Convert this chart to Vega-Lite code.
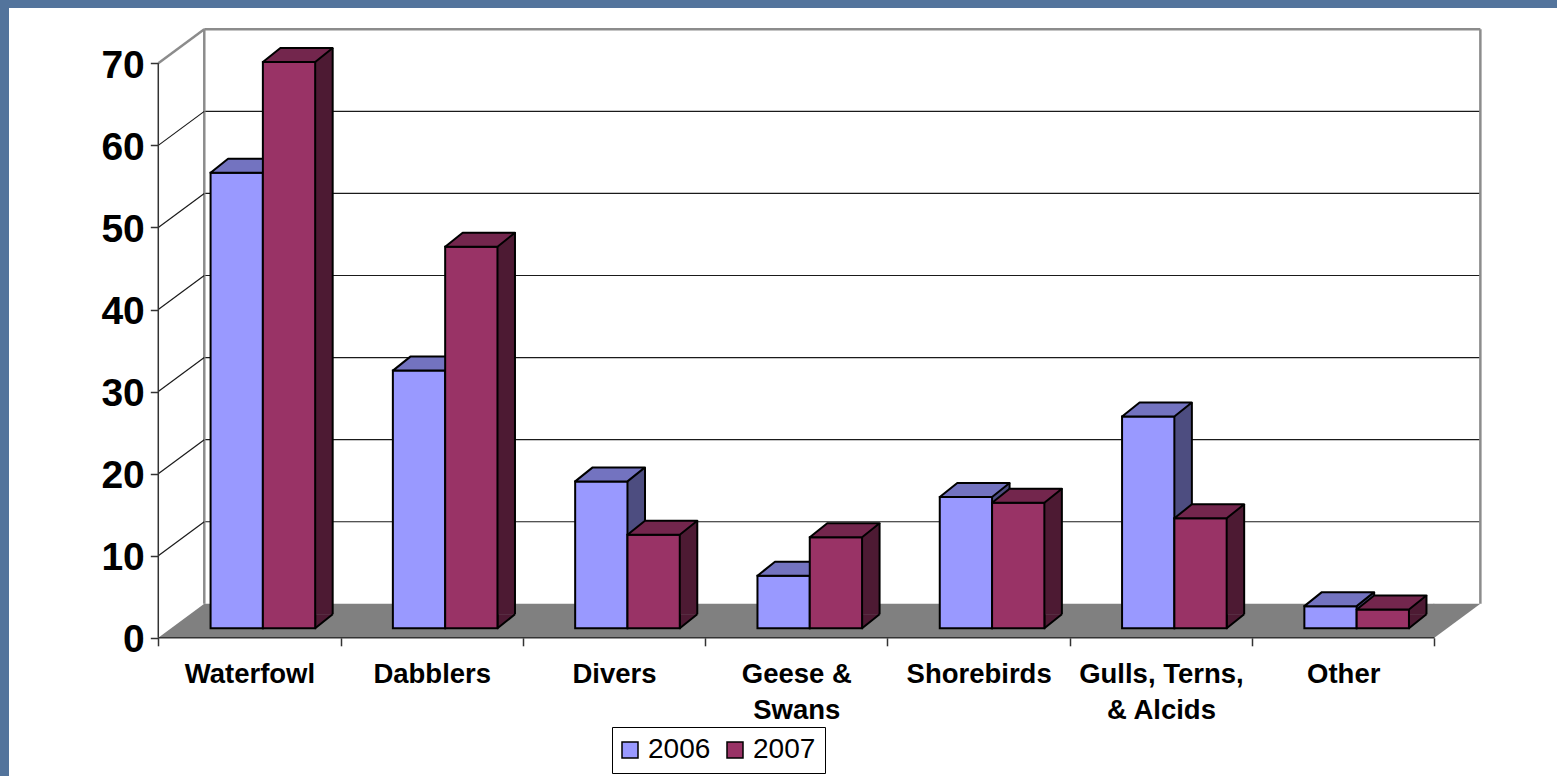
{
  "$schema": "https://vega.github.io/schema/vega-lite/v6.json",
  "width": 1548,
  "height": 768,
  "autosize": {"type": "none"},
  "padding": {"left": 9, "top": 8, "right": 0, "bottom": 0},
  "background": "#53749C",
  "view": {"fill": "white", "stroke": null},
  "config": {"font": "Liberation Sans"},
  "datasets": {
    "counts": [
      {"category": "Waterfowl", "year": "2006", "value": 55.5},
      {"category": "Waterfowl", "year": "2007", "value": 69},
      {"category": "Dabblers", "year": "2006", "value": 31.4},
      {"category": "Dabblers", "year": "2007", "value": 46.5},
      {"category": "Divers", "year": "2006", "value": 17.9},
      {"category": "Divers", "year": "2007", "value": 11.4},
      {"category": "Geese & Swans", "year": "2006", "value": 6.4},
      {"category": "Geese & Swans", "year": "2007", "value": 11.1},
      {"category": "Shorebirds", "year": "2006", "value": 16.0},
      {"category": "Shorebirds", "year": "2007", "value": 15.3},
      {"category": "Gulls, Terns, & Alcids", "year": "2006", "value": 25.8},
      {"category": "Gulls, Terns, & Alcids", "year": "2007", "value": 13.4},
      {"category": "Other", "year": "2006", "value": 2.7},
      {"category": "Other", "year": "2007", "value": 2.3}
    ],
    "grid": [
      {"tick": 0}, {"tick": 10}, {"tick": 20}, {"tick": 30},
      {"tick": 40}, {"tick": 50}, {"tick": 60}, {"tick": 70}
    ]
  },
  "data": {"name": "counts"},
  "layer": [
    {
      "transform": [{"filter": "datum.year == '2006'"}],
      "mark": {"type": "bar", "opacity": 0},
      "encoding": {
        "x": {
          "field": "category", "type": "nominal", "title": null,
          "scale": {"type": "band", "domain": ["Waterfowl", "Dabblers", "Divers", "Geese & Swans", "Shorebirds", "Gulls, Terns, & Alcids", "Other"], "paddingInner": 0, "paddingOuter": 0.7458, "align": 0.549},
          "axis": {
            "orient": "bottom", "offset": -138.2, "domain": false, "grid": false,
            "tickBand": "extent", "tickSize": 8, "tickColor": "#333333", "tickWidth": 1.5,
            "labelFont": "Liberation Sans", "labelFontSize": 27.5, "labelFontWeight": "bold", "labelColor": "black",
            "labelPadding": 15, "labelLineHeight": 36, "labelLimit": 0, "labelAngle": 0, "title": null,
            "labelExpr": "datum.label == 'Geese & Swans' ? ['Geese &', 'Swans'] : datum.label == 'Gulls, Terns, & Alcids' ? ['Gulls, Terns,', '& Alcids'] : datum.label"
          }
        },
        "y": {
          "field": "value", "type": "quantitative", "title": null,
          "scale": {"domain": [-16.84, 76.74], "nice": false, "zero": false},
          "axis": {
            "values": [0, 10, 20, 30, 40, 50, 60, 70], "offset": -149.3, "domain": false, "grid": false,
            "tickSize": 8, "tickColor": "#333333", "tickWidth": 1.5,
            "labelFont": "Liberation Sans", "labelFontSize": 39, "labelFontWeight": "bold", "labelColor": "black",
            "labelPadding": 6, "labelOffset": 2, "title": null
          }
        },
        "y2": {"datum": 0}
      }
    },
    {
      "data": {"name": "grid"},
      "transform": [{"filter": "datum.tick > 0"}],
      "mark": {"type": "rule", "xOffset": 46, "x2Offset": 46, "yOffset": -34},
      "encoding": {
        "x": {"datum": "Waterfowl", "type": "nominal", "bandPosition": 0, "title": null},
        "x2": {"datum": "Other", "bandPosition": 1},
        "y": {"field": "tick", "type": "quantitative", "title": null},
        "stroke": {"condition": {"test": "datum.tick == 70", "value": "#8c8c8c"}, "value": "#1a1a1a"},
        "strokeWidth": {"condition": {"test": "datum.tick == 70", "value": 2.5}, "value": 1.2}
      }
    },
    {
      "data": {"name": "grid"},
      "transform": [{"filter": "datum.tick == 0"}],
      "mark": {"type": "rule", "xOffset": 46, "yOffset": -34, "y2Offset": -34, "stroke": "#8c8c8c", "strokeWidth": 2.5},
      "encoding": {
        "x": {"datum": "Waterfowl", "type": "nominal", "bandPosition": 0, "title": null},
        "y": {"datum": 0, "type": "quantitative", "title": null},
        "y2": {"datum": 70}
      }
    },
    {
      "data": {"name": "grid"},
      "transform": [{"filter": "datum.tick == 0"}],
      "mark": {"type": "rule", "xOffset": 46, "yOffset": -34, "y2Offset": -34, "stroke": "#8c8c8c", "strokeWidth": 2.5},
      "encoding": {
        "x": {"datum": "Other", "type": "nominal", "bandPosition": 1, "title": null},
        "y": {"datum": 0, "type": "quantitative", "title": null},
        "y2": {"datum": 70}
      }
    },
    {
      "data": {"name": "grid"},
      "transform": [{"filter": "datum.tick > 0"}],
      "mark": {"type": "rule", "x2Offset": 46, "y2Offset": -34},
      "encoding": {
        "x": {"datum": "Waterfowl", "type": "nominal", "bandPosition": 0, "title": null},
        "x2": {"datum": "Waterfowl", "bandPosition": 0},
        "y": {"field": "tick", "type": "quantitative", "title": null},
        "y2": {"field": "tick"},
        "stroke": {"condition": {"test": "datum.tick == 70", "value": "#8c8c8c"}, "value": "#1a1a1a"},
        "strokeWidth": {"condition": {"test": "datum.tick == 70", "value": 2.5}, "value": 1.2}
      }
    },
    {
      "data": {"name": "grid"},
      "transform": [{"filter": "datum.tick == 0"}],
      "mark": {"type": "rule", "xOffset": 46, "yOffset": -17, "stroke": "#808080", "strokeWidth": 34, "strokeCap": "butt"},
      "encoding": {
        "x": {"datum": "Waterfowl", "type": "nominal", "bandPosition": 0, "title": null},
        "x2": {"datum": "Other", "bandPosition": 1},
        "y": {"datum": 0, "type": "quantitative", "title": null}
      }
    },
    {
      "data": {"name": "grid"},
      "transform": [{"filter": "datum.tick == 0"}],
      "mark": {"type": "point", "shape": "M0,0 L46,-34 L47,-34 L47,0 Z", "size": 4, "filled": true, "fill": "#808080", "strokeWidth": 0, "opacity": 1},
      "encoding": {
        "x": {"datum": "Waterfowl", "type": "nominal", "bandPosition": 0, "title": null},
        "y": {"datum": 0, "type": "quantitative", "title": null}
      }
    },
    {
      "data": {"name": "grid"},
      "transform": [{"filter": "datum.tick == 0"}],
      "mark": {"type": "point", "shape": "M-1,0 L0,0 L46,-34 L-1,-34 Z", "size": 4, "filled": true, "fill": "#808080", "strokeWidth": 0, "opacity": 1},
      "encoding": {
        "x": {"datum": "Other", "type": "nominal", "bandPosition": 1, "title": null},
        "y": {"datum": 0, "type": "quantitative", "title": null}
      }
    },
    {
      "data": {"name": "grid"},
      "transform": [{"filter": "datum.tick == 0"}],
      "mark": {"type": "rule", "stroke": "#333333", "strokeWidth": 1.5},
      "encoding": {
        "x": {"datum": "Waterfowl", "type": "nominal", "bandPosition": 0, "title": null},
        "y": {"datum": 0, "type": "quantitative", "title": null},
        "y2": {"datum": 70}
      }
    },
    {
      "data": {"name": "grid"},
      "transform": [{"filter": "datum.tick == 0"}],
      "mark": {"type": "rule", "stroke": "#333333", "strokeWidth": 1.5},
      "encoding": {
        "x": {"datum": "Waterfowl", "type": "nominal", "bandPosition": 0, "title": null},
        "x2": {"datum": "Other", "bandPosition": 1},
        "y": {"datum": 0, "type": "quantitative", "title": null}
      }
    },
    {
      "transform": [{"filter": "datum.year == '2006'"}],
      "mark": {"type": "rule", "xOffset": 22.2, "yOffset": -23.5, "y2Offset": -23.5, "stroke": "#4D4D80", "strokeWidth": 17.5, "strokeCap": "butt"},
      "encoding": {
        "x": {"field": "category", "type": "nominal", "title": null},
        "y": {"field": "value", "type": "quantitative", "title": null},
        "y2": {"datum": 0}
      }
    },
    {
      "transform": [{"filter": "datum.year == '2006'"}],
      "mark": {"type": "rule", "xOffset": 30.95, "yOffset": -23.5, "y2Offset": -23.5, "stroke": "black", "strokeWidth": 2},
      "encoding": {
        "x": {"field": "category", "type": "nominal", "title": null},
        "y": {"field": "value", "type": "quantitative", "title": null},
        "y2": {"datum": 0}
      }
    },
    {
      "transform": [{"filter": "datum.year == '2006'"}],
      "mark": {"type": "point", "xOffset": 13.45, "yOffset": -9.5, "shape": "M0,-14 L0,0 L17.5,-14", "size": 4, "filled": true, "fill": "#4D4D80", "stroke": "black", "strokeWidth": 2, "strokeJoin": "round", "opacity": 1},
      "encoding": {
        "x": {"field": "category", "type": "nominal", "title": null},
        "y": {"datum": 0, "type": "quantitative", "title": null}
      }
    },
    {
      "transform": [{"filter": "datum.year == '2006'"}],
      "mark": {"type": "bar", "yOffset": -9.5, "y2Offset": -9.5, "stroke": "black", "strokeWidth": 2, "opacity": 1},
      "encoding": {
        "x": {"field": "category", "type": "nominal", "title": null},
        "xOffset": {"field": "year", "type": "nominal", "scale": {"domain": ["2006", "2007"], "paddingInner": 0, "paddingOuter": 0.7428, "align": 0.673}},
        "y": {"field": "value", "type": "quantitative", "title": null},
        "y2": {"datum": 0},
        "color": {
          "field": "year", "type": "nominal",
          "scale": {"domain": ["2006", "2007"], "range": ["#9999FF", "#993366"]},
          "legend": {
            "orient": "none", "legendX": 603, "legendY": 719, "direction": "horizontal", "title": null,
            "strokeColor": "black", "fillColor": "white", "padding": 9,
            "symbolType": "square", "symbolSize": 256, "symbolStrokeColor": "black", "symbolStrokeWidth": 1.5, "symbolOpacity": 1,
            "symbolOffset": -5,
            "labelFont": "Liberation Sans", "labelFontSize": 28, "labelColor": "black", "labelOffset": 4, "columnPadding": 13
          }
        }
      }
    },
    {
      "transform": [{"filter": "datum.year == '2006'"}],
      "mark": {"type": "point", "xOffset": -12.7, "yOffset": -9.5, "shape": "M-26.15,0 L26.15,0 L43.65,-14 L-8.65,-14 Z", "size": 4, "filled": true, "fill": "#7373C0", "stroke": "black", "strokeWidth": 2, "strokeJoin": "round", "opacity": 1},
      "encoding": {
        "x": {"field": "category", "type": "nominal", "title": null},
        "y": {"field": "value", "type": "quantitative", "title": null}
      }
    },
    {
      "transform": [{"filter": "datum.year == '2007'"}],
      "mark": {"type": "rule", "xOffset": 74.5, "yOffset": -23.5, "y2Offset": -23.5, "stroke": "#4D1A33", "strokeWidth": 17.5, "strokeCap": "butt"},
      "encoding": {
        "x": {"field": "category", "type": "nominal", "title": null},
        "y": {"field": "value", "type": "quantitative", "title": null},
        "y2": {"datum": 0}
      }
    },
    {
      "transform": [{"filter": "datum.year == '2007'"}],
      "mark": {"type": "rule", "xOffset": 83.25, "yOffset": -23.5, "y2Offset": -23.5, "stroke": "black", "strokeWidth": 2},
      "encoding": {
        "x": {"field": "category", "type": "nominal", "title": null},
        "y": {"field": "value", "type": "quantitative", "title": null},
        "y2": {"datum": 0}
      }
    },
    {
      "transform": [{"filter": "datum.year == '2007'"}],
      "mark": {"type": "point", "xOffset": 65.75, "yOffset": -9.5, "shape": "M0,-14 L0,0 L17.5,-14", "size": 4, "filled": true, "fill": "#4D1A33", "stroke": "black", "strokeWidth": 2, "strokeJoin": "round", "opacity": 1},
      "encoding": {
        "x": {"field": "category", "type": "nominal", "title": null},
        "y": {"datum": 0, "type": "quantitative", "title": null}
      }
    },
    {
      "transform": [{"filter": "datum.year == '2007'"}],
      "mark": {"type": "bar", "yOffset": -9.5, "y2Offset": -9.5, "stroke": "black", "strokeWidth": 2, "opacity": 1},
      "encoding": {
        "x": {"field": "category", "type": "nominal", "title": null},
        "xOffset": {"field": "year", "type": "nominal"},
        "y": {"field": "value", "type": "quantitative", "title": null},
        "y2": {"datum": 0},
        "color": {"field": "year", "type": "nominal"}
      }
    },
    {
      "transform": [{"filter": "datum.year == '2007'"}],
      "mark": {"type": "point", "xOffset": 39.6, "yOffset": -9.5, "shape": "M-26.15,0 L26.15,0 L43.65,-14 L-8.65,-14 Z", "size": 4, "filled": true, "fill": "#73264D", "stroke": "black", "strokeWidth": 2, "strokeJoin": "round", "opacity": 1},
      "encoding": {
        "x": {"field": "category", "type": "nominal", "title": null},
        "y": {"field": "value", "type": "quantitative", "title": null}
      }
    }
  ]
}
